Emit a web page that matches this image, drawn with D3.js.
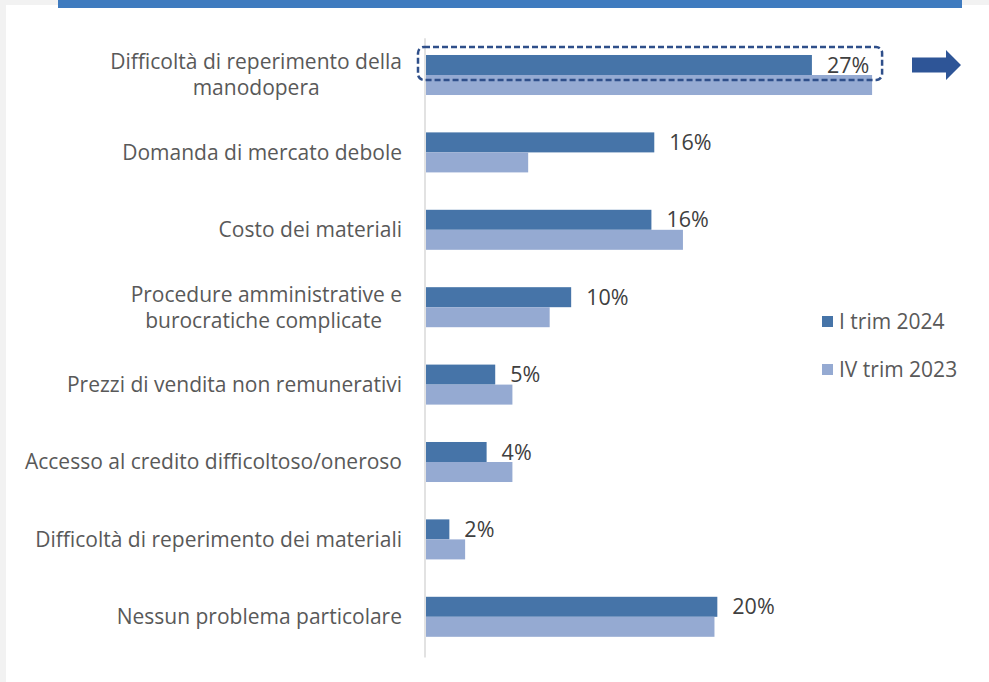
<!DOCTYPE html>
<html>
<head>
<meta charset="utf-8">
<script src="https://cdn.jsdelivr.net/npm/d3@7"></script>
<style>
  html, body { margin: 0; padding: 0; background: #f2f2f2; }
  svg { display: block; font-family: "Open Sans", sans-serif; }
</style>
</head>
<body>
<div id="chart"></div>
<script>
// categories, top to bottom (lines split where the label wraps)
var categories = [
    ["Difficoltà di reperimento della", "manodopera"],
    ["Domanda di mercato debole"],
    ["Costo dei materiali"],
    ["Procedure amministrative e", "burocratiche complicate "],
    ["Prezzi di vendita non remunerativi"],
    ["Accesso al credito difficoltoso/oneroso"],
    ["Difficoltà di reperimento dei materiali"],
    ["Nessun problema particolare"]
];
var seriesNames = ["I trim 2024", "IV trim 2023"];
var trim2024 = [27.0, 16.0, 15.8, 10.2, 4.9, 4.3, 1.7, 20.4];
var trim2023 = [31.2, 7.2, 18.0, 8.7, 6.1, 6.1, 2.8, 20.2];
var colors = ["#4674a8", "#95aad2"];

var width = 989, height = 682;

var svg = d3.select("#chart").append("svg")
    .attr("width", width)
    .attr("height", height);

// white card + blue band at top
svg.append("rect").attr("x", 6).attr("y", 5).attr("width", width - 6).attr("height", height - 5).attr("fill", "#fff");
svg.append("rect").attr("x", 58).attr("y", 0).attr("width", 904).attr("height", 8).attr("fill", "#3f7bbf");

var x = d3.scaleLinear().domain([0, 35]).range([425, 425 + 35 * 14.33]);
var y = d3.scaleBand()
    .domain(d3.range(categories.length))
    .range([36.3, 655.5])
    .paddingInner(0.483)
    .paddingOuter(0.2415);
var half = y.bandwidth() / 2;

// axis line
svg.append("line")
    .attr("x1", x(0)).attr("x2", x(0))
    .attr("y1", y.range()[0] + 2).attr("y2", y.range()[1] + 2)
    .attr("stroke", "#d9d9d9").attr("stroke-width", 1.5);

var series = [trim2024, trim2023];
series.forEach(function (vals, s) {
    svg.append("g").selectAll("rect")
        .data(vals)
        .enter().append("rect")
        .attr("x", x(0) + 1)
        .attr("y", function (d, i) { return y(i) + s * half; })
        .attr("width", function (d) { return x(d) - x(0) - 1; })
        .attr("height", half)
        .attr("fill", colors[s]);
});

// data labels, first series only
svg.append("g").selectAll("text")
    .data(trim2024)
    .enter().append("text")
    .attr("x", function (d) { return x(d) + 15; })
    .attr("y", function (d, i) { return y(i) + half / 2; })
    .attr("dy", "0.35em")
    .attr("fill", "#404040")
    .attr("font-size", 21.5)
    .text(function (d) { return Math.round(d) + "%"; });

// category labels: block right-aligned, lines centred within it
var labelRight = 402;
var lab = svg.append("g").attr("fill", "#595959").attr("font-size", 21);
categories.forEach(function (lines, i) {
    var g = lab.append("g");
    var cy = y(i) + half;
    var ts = lines.map(function (t, k) {
        return g.append("text")
            .style("white-space", "pre")
            .attr("y", cy + (k - (lines.length - 1) / 2) * 26)
            .attr("dy", "0.35em")
            .text(t);
    });
    var wmax = d3.max(ts, function (t) { return t.node().getComputedTextLength(); });
    ts.forEach(function (t) {
        t.attr("x", labelRight - wmax / 2).attr("text-anchor", "middle");
    });
});

// highlight box round the first group
svg.append("rect")
    .attr("x", x(0) - 7)
    .attr("y", y(0) - 8)
    .attr("width", x(d3.max([trim2024[0], trim2023[0]])) + 10 - (x(0) - 7))
    .attr("height", half + 13)
    .attr("rx", 6)
    .attr("fill", "none")
    .attr("stroke", "#2f4f8a")
    .attr("stroke-width", 2.5)
    .attr("stroke-dasharray", "6,3");

// arrow
var ay = y(0) + half / 2;
svg.append("path")
    .attr("d", "M912," + (ay - 7.5) + "H946V" + (ay - 15) + "L961," + ay + "L946," + (ay + 15) + "V" + (ay + 7.5) + "H912Z")
    .attr("fill", "#2e5597");

// legend
var legend = svg.append("g").attr("font-size", 21).attr("fill", "#595959");
seriesNames.forEach(function (name, s) {
    var ly = 322 + s * 48;
    legend.append("rect").attr("x", 822).attr("y", ly - 6).attr("width", 11).attr("height", 11).attr("fill", colors[s]);
    legend.append("text").attr("x", 839).attr("y", ly).attr("dy", "0.35em").text(name);
});
</script>
</body>
</html>
